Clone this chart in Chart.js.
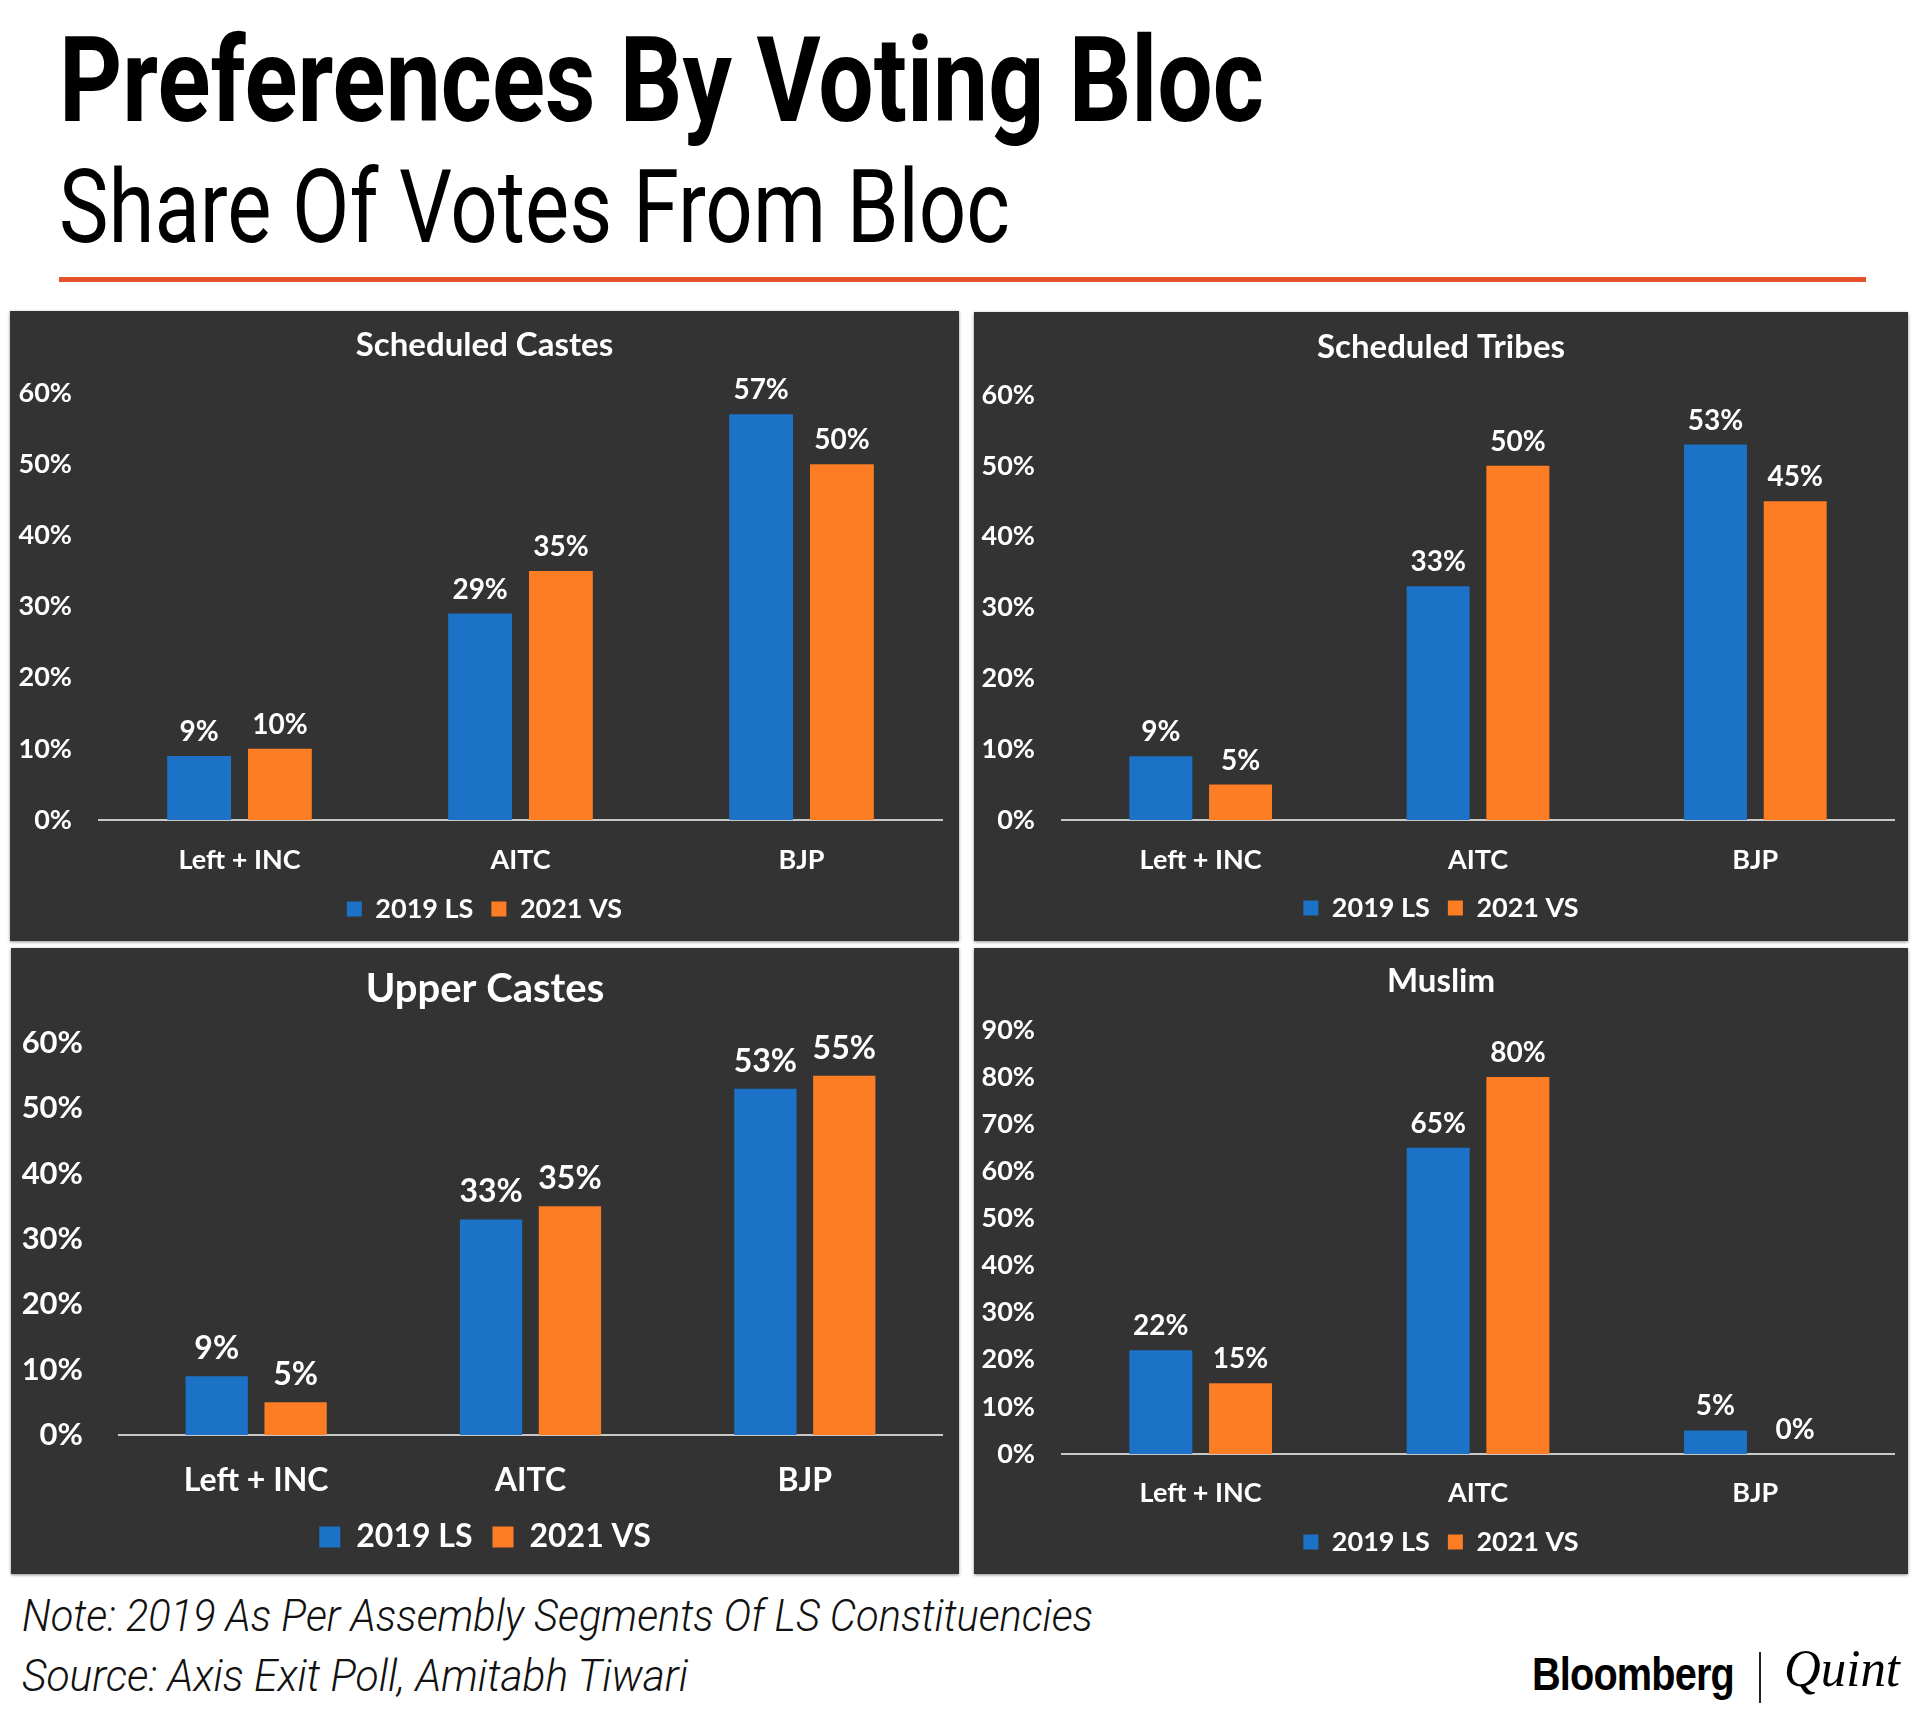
<!DOCTYPE html>
<html>
<head>
<meta charset="utf-8">
<title>Preferences By Voting Bloc</title>
<script src="https://cdn.jsdelivr.net/npm/chart.js@4.4.1/dist/chart.umd.min.js"></script>
<style>
  html, body { margin: 0; padding: 0; }
  body { width: 1920px; height: 1728px; background: #fff; position: relative; overflow: hidden; }
  .txt { position: absolute; white-space: nowrap; line-height: 1; transform-origin: 0 0; color: #000; }
  #title { font-family: Roboto, "Liberation Sans", sans-serif; font-weight: 700; }
  #subtitle { font-family: Roboto, "Liberation Sans", sans-serif; font-weight: 400; }
  .foot { font-family: Roboto, "Liberation Sans", sans-serif; font-style: italic; font-weight: 300; color: #111; }
  #logo-b { font-family: "Liberation Sans", Arial, sans-serif; font-weight: 700; letter-spacing: -1px; }
  #logo-q { font-family: "Liberation Serif", serif; font-style: italic; }
  #rule { position: absolute; left: 59px; top: 277px; width: 1807px; height: 5px; background: #e4512b; }
  #logo-bar { position: absolute; left: 1759px; top: 1652px; width: 2px; height: 51px; background: #222; }
  .panel { position: absolute; background: #333333; box-shadow: 0 1px 3px rgba(0,0,0,0.45); }
  .panel canvas { display: block; }
</style>
</head>
<body>

<div id="title" class="txt">Preferences By Voting Bloc</div>
<div id="subtitle" class="txt">Share Of Votes From Bloc</div>
<div id="rule"></div>

<div id="p-sc" class="panel"><canvas id="c-sc"></canvas></div>
<div id="p-st" class="panel"><canvas id="c-st"></canvas></div>
<div id="p-uc" class="panel"><canvas id="c-uc"></canvas></div>
<div id="p-mu" class="panel"><canvas id="c-mu"></canvas></div>

<div id="note" class="txt foot">Note: 2019 As Per Assembly Segments Of LS Constituencies</div>
<div id="source" class="txt foot">Source: Axis Exit Poll, Amitabh Tiwari</div>
<div id="logo-b" class="txt">Bloomberg</div>
<div id="logo-bar"></div>
<div id="logo-q" class="txt">Quint</div>

<script>
// DATA
const parties = ["Left + INC", "AITC", "BJP"];
const seriesNames = ["2019 LS", "2021 VS"];

const scheduledCastes2019 = [9, 29, 57];
const scheduledCastes2021 = [10, 35, 50];

const scheduledTribes2019 = [9, 33, 53];
const scheduledTribes2021 = [5, 50, 45];

const upperCastes2019 = [9, 33, 53];
const upperCastes2021 = [5, 35, 55];

const muslim2019 = [22, 65, 5];
const muslim2021 = [15, 80, 0];

const yMaxSixty = 60;
const yMaxNinety = 90;
const yStep = 10;

// COLOURS
const blue = "#1b72c6";
const orange = "#fd7d24";
const white = "#ffffff";

Chart.defaults.font.family = "Lato, 'Noto Sans', sans-serif";
Chart.defaults.font.weight = "bold";

// place a html text so its baseline lands on y and its width is squeezed to w
function placeText(id, left, baseline, size, width, ascent) {
  const el = document.getElementById(id);
  el.style.fontSize = size + "px";
  el.style.left = left + "px";
  el.style.top = (baseline - ascent * size) + "px";
  const natural = el.getBoundingClientRect().width;
  if (width) el.style.transform = "scaleX(" + (width / natural) + ")";
}

placeText("title", 59, 121, 119, 1205, 0.842);
placeText("subtitle", 59, 242, 102, 951, 0.842);
placeText("note", 22, 1631, 45, 1071, 0.842);
placeText("source", 22, 1691, 45, 666, 0.842);
placeText("logo-b", 1532, 1690, 47, 202, 0.8465);
placeText("logo-q", 1784, 1687, 52, 116, 0.8375);

// value labels above each bar
const barLabels = {
  id: "barLabels",
  afterDatasetsDraw(chart, args, opts) {
    const ctx = chart.ctx;
    ctx.save();
    ctx.font = "bold " + opts.size + "px Lato, 'Noto Sans', sans-serif";
    ctx.fillStyle = white;
    ctx.textAlign = "center";
    ctx.textBaseline = "alphabetic";
    chart.data.datasets.forEach((ds, di) => {
      chart.getDatasetMeta(di).data.forEach((bar, i) => {
        ctx.fillText(ds.data[i] + "%", bar.x, bar.y - opts.gap);
      });
    });
    ctx.restore();
  },
};

// title and legend centred on the whole panel, not on the padded box
const centerBlocks = {
  id: "centerBlocks",
  afterLayout(chart) {
    [chart.titleBlock, chart.legend].forEach((b) => {
      if (b) {
        b.left = 0;
        b.right = chart.width;
      }
    });
  },
};

//* build one panel chart; g holds the target page positions for that panel
function makePanel(key, box, g, title, vals2019, vals2021, yMax) {
  const panel = document.getElementById("p-" + key);
  panel.style.left = box.x + "px";
  panel.style.top = box.y + "px";
  panel.style.width = box.w + "px";
  panel.style.height = box.h + "px";
  const canvas = document.getElementById("c-" + key);
  canvas.width = box.w;
  canvas.height = box.h;

  const top = g.top - box.y;
  const bottom = g.bottom - box.y;
  const tLine = g.titleSize * 1.2;
  const tPadTop = g.titleY - box.y - tLine / 2;
  const tPadBottom = top - tPadTop - tLine;
  const xPad = g.xLabelY - g.bottom - (g.xSize * 1.2) / 2;
  const itemH = Math.max(g.legendSize, g.boxSize);
  const legendTop = g.legendY - box.y - g.legendGap - itemH / 2;
  const xH = legendTop - bottom;
  const legendH = itemH + g.legendGap + 10;
  const padBottom = box.h - legendTop - legendH;
  const padRight = box.x + box.w - g.right;
  const yW = g.left - box.x;

  return new Chart(canvas, {
    type: "bar",
    data: {
      labels: parties,
      datasets: [
        { label: seriesNames[0], data: vals2019, backgroundColor: blue, borderWidth: 0 },
        { label: seriesNames[1], data: vals2021, backgroundColor: orange, borderWidth: 0 },
      ],
    },
    options: {
      responsive: false,
      animation: false,
      devicePixelRatio: 1,
      categoryPercentage: 0.575,
      barPercentage: 0.79,
      layout: { padding: { left: 0, right: padRight, top: 0, bottom: padBottom } },
      scales: {
        x: {
          grid: { display: false, drawTicks: false },
          border: { display: true, color: "#c8c8c8", width: 2 },
          ticks: { color: white, font: { size: g.xSize, weight: "bold" }, padding: xPad, maxRotation: 0 },
          afterFit: (scale) => { scale.height = xH; },
        },
        y: {
          min: 0,
          max: yMax,
          grid: { display: false, drawTicks: false },
          border: { display: false },
          ticks: {
            stepSize: yStep,
            color: white,
            font: { size: g.tickSize, weight: "bold" },
            padding: g.left - g.tickRight,
            callback: (v) => v + "%",
          },
          afterFit: (scale) => { scale.width = yW; },
        },
      },
      plugins: {
        title: {
          display: true,
          text: title,
          color: white,
          font: { size: g.titleSize, weight: "bold" },
          padding: { top: tPadTop, bottom: tPadBottom },
        },
        legend: {
          position: "bottom",
          labels: {
            color: white,
            font: { size: g.legendSize, weight: "bold" },
            boxWidth: g.boxSize,
            boxHeight: g.boxSize,
            padding: g.legendGap,
          },
        },
        tooltip: { enabled: false },
        barLabels: { size: g.labelSize, gap: g.labelGap },
      },
    },
    plugins: [barLabels, centerBlocks],
  });
}

const smallText = { titleSize: 33, tickSize: 27, xSize: 27, legendSize: 27, boxSize: 15, legendGap: 18, labelSize: 28, labelGap: 15 };
const bigText = { titleSize: 40, tickSize: 31, xSize: 32, legendSize: 32, boxSize: 21, legendGap: 20, labelSize: 32, labelGap: 17 };

makePanel("sc", { x: 10, y: 311, w: 949, h: 630 },
  Object.assign({ titleY: 345, top: 393, bottom: 820, xLabelY: 860, legendY: 909, left: 99, right: 942, tickRight: 72 }, smallText),
  "Scheduled Castes", scheduledCastes2019, scheduledCastes2021, yMaxSixty);

makePanel("st", { x: 974, y: 312, w: 934, h: 629 },
  Object.assign({ titleY: 347, top: 395, bottom: 820, xLabelY: 860, legendY: 908, left: 1062, right: 1894, tickRight: 1035 }, smallText),
  "Scheduled Tribes", scheduledTribes2019, scheduledTribes2021, yMaxSixty);

makePanel("uc", { x: 11, y: 948, w: 948, h: 626 },
  Object.assign({ titleY: 989, top: 1043, bottom: 1435, xLabelY: 1481, legendY: 1537, left: 119, right: 942, tickRight: 83 }, bigText),
  "Upper Castes", upperCastes2019, upperCastes2021, yMaxSixty);

makePanel("mu", { x: 974, y: 948, w: 934, h: 626 },
  Object.assign({ titleY: 981, top: 1030, bottom: 1454, xLabelY: 1493, legendY: 1542, left: 1062, right: 1894, tickRight: 1035 }, smallText),
  "Muslim", muslim2019, muslim2021, yMaxNinety);
</script>
</body>
</html>
